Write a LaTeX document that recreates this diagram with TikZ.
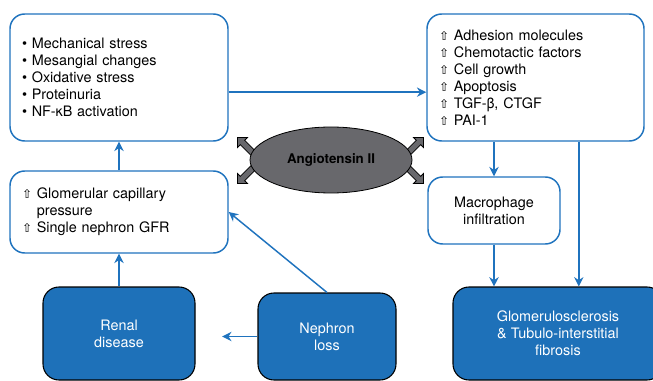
\documentclass[tikz,border=0pt]{standalone}
\usepackage{fontspec}
\setmainfont{TeX Gyre Heros}
\newfontfamily\symfont{DejaVu Sans}
\usetikzlibrary{arrows.meta,shapes.geometric,shapes.arrows}

\definecolor{lineBlue}{RGB}{31,115,190}
\definecolor{boxBlue}{RGB}{30,113,185}
\definecolor{angGray}{RGB}{104,104,108}

\newcommand{\upar}{{\symfont\fontsize{9pt}{10pt}\selectfont ⇧}}

\tikzset{
  txt/.style={font=\fontsize{10.8pt}{12.75pt}\selectfont},
  listbox/.style={txt, draw=lineBlue, line width=1.1pt, rounded corners=11pt, fill=white, align=left, inner xsep=9pt},
  plainbox/.style={txt, draw=lineBlue, line width=1.1pt, rounded corners=11pt, fill=white, align=center},
  darkbox/.style={txt, draw=black, line width=0.8pt, rounded corners=12pt, fill=boxBlue, text=white, align=center},
  conn/.style={draw=lineBlue, line width=1.1pt, -{Stealth[length=7pt,width=7pt]}},
  grayarrow/.style={single arrow, draw=black, line width=0.6pt, fill=angGray, inner sep=2pt, minimum height=20pt, single arrow head extend=3pt, single arrow head indent=0pt}
}

\begin{document}
\begin{tikzpicture}[x=0.75pt,y=0.75pt,yscale=-1]
\useasboundingbox (0,0) rectangle (653,381);
\clip (0,0) rectangle (653,381);

% boxes
\node[listbox, text width=145.5pt, minimum height=95.25pt] (stress) at (119,77.5)
  {\textbullet\ Mechanical stress\\ \textbullet\ Mesangial changes\\ \textbullet\ Oxidative stress\\ \textbullet\ Proteinuria\\ \textbullet\ NF-κB activation};
\node[listbox, text width=144.75pt, minimum height=95.25pt] (factors) at (535.5,77.5)
  {\upar\ Adhesion molecules\\ \upar\ Chemotactic factors\\ \upar\ Cell growth\\ \upar\ Apoptosis\\ \upar\ TGF-β, CTGF\\ \upar\ PAI-1};
\node[listbox, text width=145.5pt, minimum height=61.5pt] (gfr) at (119,212)
  {\upar\ Glomerular capillary\\ \hphantom{\upar\ }pressure\\ \upar\ Single nephron GFR};
\node[plainbox, minimum width=99pt, minimum height=50.25pt] (macro) at (494,210.5)
  {Macrophage\\ infiltration};
\node[darkbox, minimum width=114pt, minimum height=69.75pt] (renal) at (119,333.5)
  {Renal\\ disease};
\node[darkbox, minimum width=103.5pt, minimum height=65.25pt] (nephron) at (327,336.5)
  {Nephron\\ loss};
\node[darkbox, minimum width=157.5pt, minimum height=69.75pt] (sclerosis) at (558,333.5)
  {Glomerulosclerosis\\ \& Tubulo-interstitial\\ fibrosis};

% angiotensin
\node[grayarrow, rotate=135] (angUL) at (248,148) {};
\node[grayarrow, rotate=225] (angLL) at (248,173) {};
\node[grayarrow, rotate=45] (angUR) at (413,148) {};
\node[grayarrow, rotate=-45] (angLR) at (413,173) {};
\node[ellipse, draw=black, line width=0.6pt, fill=angGray, inner sep=0pt, minimum width=121.5pt, minimum height=49.5pt, txt, font=\bfseries] (ang) at (331,160) {Angiotensin II};

% connectors
\draw[conn] ([yshift=11pt]stress.east) -- ([yshift=11pt]factors.west);
\draw[conn] (gfr.north) -- (stress.south);
\draw[conn] (renal.north) -- (gfr.south);
\draw[conn, shorten >=20pt] (nephron.west) -- (renal.east |- nephron.west);
\draw[conn] (nephron.north) -- (gfr.east);
\draw[conn] (factors.south -| macro.north) -- (macro.north);
\draw[conn] (macro.south) -- (macro.south |- sclerosis.north);
\draw[conn] ([xshift=32.5pt]factors.south) -- ([xshift=32.5pt]factors.south |- sclerosis.north);
\end{tikzpicture}
\end{document}
